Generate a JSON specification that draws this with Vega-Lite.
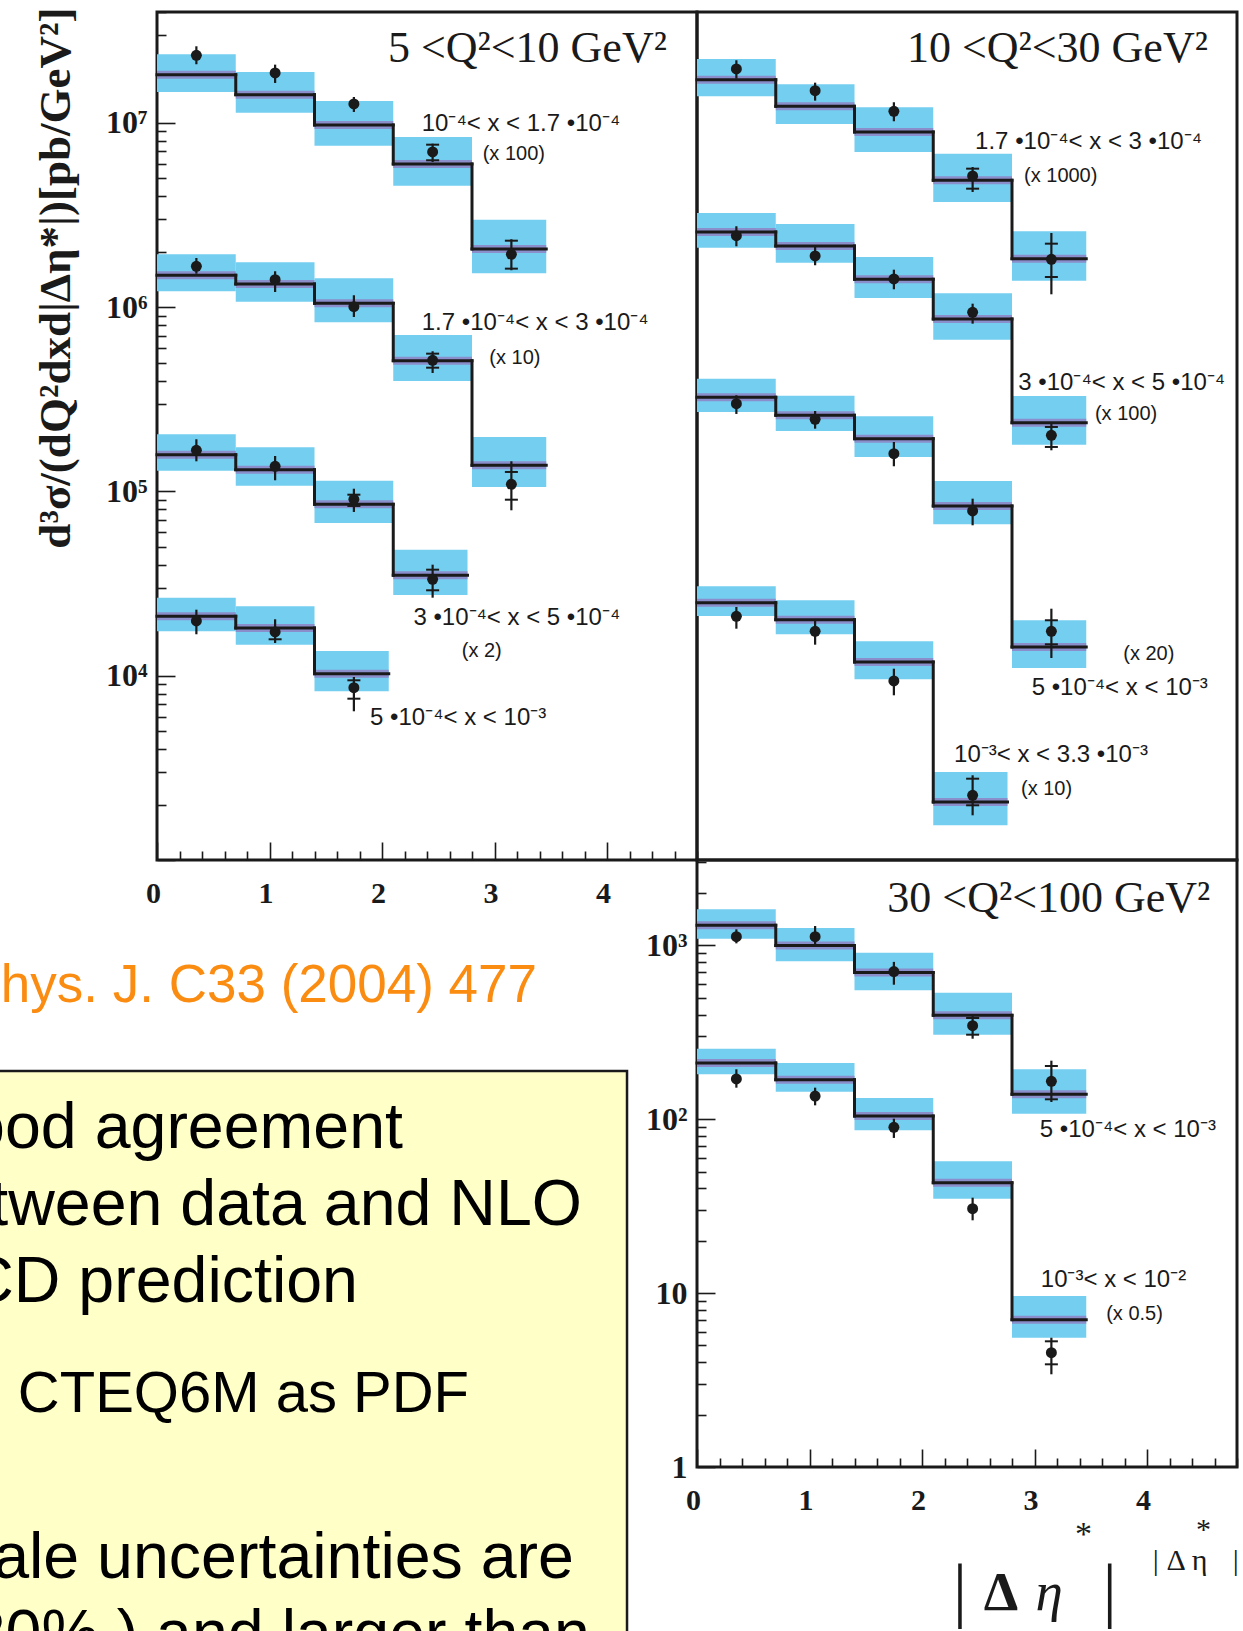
{
  "$schema": "https://vega.github.io/schema/vega-lite/v6.json",
  "background": "white",
  "padding": {"left": 0, "top": 5, "right": 0, "bottom": 0},
  "autosize": {"type": "pad"},
  "columns": 3,
  "spacing": 0,
  "bounds": "flush",
  "datasets": {
    "bins": [
      {"p":1,"s":"a","lo":0,"hi":0.7,"pred":18280000,"blo":14720000,"bhi":23580000,"ctr":0.35,"val":23290000,"elo":20820000,"ehi":26060000},
      {"p":1,"s":"a","lo":0.7,"hi":1.4,"pred":14240000,"blo":11370000,"bhi":18900000,"ctr":1.05,"val":18670000,"elo":16480000,"ehi":20720000},
      {"p":1,"s":"a","lo":1.4,"hi":2.1,"pred":9747000,"blo":7525000,"bhi":13160000,"ctr":1.75,"val":12680000,"elo":11470000,"ehi":13830000},
      {"p":1,"s":"a","lo":2.1,"hi":2.8,"pred":5988000,"blo":4566000,"bhi":8391000,"ctr":2.45,"val":6958000,"elo":6139000,"ehi":7717000,"slo":6272000,"shi":7621000},
      {"p":1,"s":"a","lo":2.8,"hi":3.46,"pred":2070000,"blo":1528000,"bhi":2985000,"ctr":3.15,"val":1938000,"elo":1587000,"ehi":2337000,"slo":1619000,"shi":2296000},
      {"p":1,"s":"b","lo":0,"hi":0.7,"pred":1490000,"blo":1220000,"bhi":1938000,"ctr":0.35,"val":1668000,"elo":1520000,"ehi":1850000},
      {"p":1,"s":"b","lo":0.7,"hi":1.4,"pred":1337000,"blo":1072000,"bhi":1753000,"ctr":1.05,"val":1410000,"elo":1209000,"ehi":1567000},
      {"p":1,"s":"b","lo":1.4,"hi":2.1,"pred":1050000,"blo":828300,"bhi":1435000,"ctr":1.75,"val":1007000,"elo":885000,"ehi":1161000},
      {"p":1,"s":"b","lo":2.1,"hi":2.8,"pred":512800,"blo":397800,"bhi":706800,"ctr":2.45,"val":515300,"elo":439600,"ehi":576600,"slo":469700,"shi":559600},
      {"p":1,"s":"b","lo":2.8,"hi":3.46,"pred":138700,"blo":105800,"bhi":197600,"ctr":3.15,"val":109400,"elo":79040,"ehi":145800,"slo":90230,"shi":127600},
      {"p":1,"s":"c","lo":0,"hi":0.7,"pred":158300,"blo":129700,"bhi":204300,"ctr":0.35,"val":167300,"elo":145800,"ehi":192000},
      {"p":1,"s":"c","lo":0.7,"hi":1.4,"pred":131300,"blo":107500,"bhi":173700,"ctr":1.05,"val":137000,"elo":115000,"ehi":155800},
      {"p":1,"s":"c","lo":1.4,"hi":2.1,"pred":85200,"blo":67450,"bhi":114500,"ctr":1.75,"val":90700,"elo":77400,"ehi":103500,"slo":83430,"shi":96050},
      {"p":1,"s":"c","lo":2.1,"hi":2.76,"pred":35090,"blo":27430,"bhi":48310,"ctr":2.45,"val":33380,"elo":26520,"ehi":40060,"slo":29090,"shi":37630},
      {"p":1,"s":"d","lo":0,"hi":0.7,"pred":21020,"blo":17430,"bhi":26510,"ctr":0.35,"val":19820,"elo":16790,"ehi":22830},
      {"p":1,"s":"d","lo":0.7,"hi":1.4,"pred":18160,"blo":14740,"bhi":23810,"ctr":1.05,"val":17280,"elo":15050,"ehi":20250,"slo":15770},
      {"p":1,"s":"d","lo":1.4,"hi":2.06,"pred":10260,"blo":8232,"bhi":13620,"ctr":1.75,"val":8612,"elo":6413,"ehi":9845,"slo":7507,"shi":9447},
      {"p":2,"s":"a","lo":0,"hi":0.7,"pred":17170000,"blo":13950000,"bhi":22240000,"ctr":0.35,"val":19630000,"elo":17390000,"ehi":21880000},
      {"p":2,"s":"a","lo":0.7,"hi":1.4,"pred":12310000,"blo":9872000,"bhi":16210000,"ctr":1.05,"val":14970000,"elo":13210000,"ehi":16540000},
      {"p":2,"s":"a","lo":1.4,"hi":2.1,"pred":8931000,"blo":6958000,"bhi":12160000,"ctr":1.75,"val":11570000,"elo":10210000,"ehi":12950000},
      {"p":2,"s":"a","lo":2.1,"hi":2.8,"pred":4885000,"blo":3724000,"bhi":6812000,"ctr":2.45,"val":5155000,"elo":4220000,"ehi":5768000,"slo":4398000,"shi":5647000},
      {"p":2,"s":"a","lo":2.8,"hi":3.46,"pred":1834000,"blo":1393000,"bhi":2582000,"ctr":3.15,"val":1820000,"elo":1175000,"ehi":2528000,"slo":1459000,"shi":2212000},
      {"p":2,"s":"b","lo":0,"hi":0.7,"pred":2560000,"blo":2104000,"bhi":3246000,"ctr":0.35,"val":2444000,"elo":2141000,"ehi":2750000},
      {"p":2,"s":"b","lo":0.7,"hi":1.4,"pred":2149000,"blo":1744000,"bhi":2829000,"ctr":1.05,"val":1897000,"elo":1689000,"ehi":2122000},
      {"p":2,"s":"b","lo":1.4,"hi":2.1,"pred":1418000,"blo":1122000,"bhi":1874000,"ctr":1.75,"val":1423000,"elo":1251000,"ehi":1598000},
      {"p":2,"s":"b","lo":2.1,"hi":2.8,"pred":863200,"blo":666400,"bhi":1190000,"ctr":2.45,"val":938500,"elo":814000,"ehi":1045000},
      {"p":2,"s":"b","lo":2.8,"hi":3.46,"pred":236200,"blo":179500,"bhi":329800,"ctr":3.15,"val":201800,"elo":167300,"ehi":233300,"slo":174400,"shi":223900},
      {"p":2,"s":"c","lo":0,"hi":0.7,"pred":324400,"blo":270100,"bhi":409300,"ctr":0.35,"val":299500,"elo":263400,"ehi":332700},
      {"p":2,"s":"c","lo":0.7,"hi":1.4,"pred":259100,"blo":212900,"bhi":331000,"ctr":1.05,"val":246500,"elo":219100,"ehi":273400},
      {"p":2,"s":"c","lo":1.4,"hi":2.1,"pred":193400,"blo":153900,"bhi":255900,"ctr":1.75,"val":160400,"elo":137000,"ehi":185600},
      {"p":2,"s":"c","lo":2.1,"hi":2.8,"pred":83410,"blo":66360,"bhi":114000,"ctr":2.45,"val":78380,"elo":65530,"ehi":91400},
      {"p":2,"s":"c","lo":2.8,"hi":3.46,"pred":14320,"blo":11020,"bhi":20000,"ctr":3.15,"val":17430,"elo":12480,"ehi":23110,"slo":14810,"shi":20000},
      {"p":2,"s":"d","lo":0,"hi":0.7,"pred":24910,"blo":21100,"bhi":30580,"ctr":0.35,"val":21020,"elo":18000,"ehi":23610},
      {"p":2,"s":"d","lo":0.7,"hi":1.4,"pred":20150,"blo":16790,"bhi":25670,"ctr":1.05,"val":17430,"elo":14740,"ehi":19820},
      {"p":2,"s":"d","lo":1.4,"hi":2.1,"pred":11870,"blo":9566,"bhi":15380,"ctr":1.75,"val":9366,"elo":7832,"ehi":10920},
      {"p":2,"s":"d","lo":2.1,"hi":2.76,"pred":2064,"blo":1543,"bhi":3003,"ctr":2.45,"val":2245,"elo":1748,"ehi":2882,"slo":1981,"shi":2762},
      {"p":3,"s":"a","lo":0,"hi":0.7,"pred":1306,"blo":1094,"bhi":1614,"ctr":0.35,"val":1122,"elo":1028,"ehi":1238},
      {"p":3,"s":"a","lo":0.7,"hi":1.4,"pred":997.9,"blo":810.4,"bhi":1260,"ctr":1.05,"val":1122,"elo":994,"ehi":1293},
      {"p":3,"s":"a","lo":1.4,"hi":2.1,"pred":698.2,"blo":551.8,"bhi":908,"ctr":1.75,"val":707.5,"elo":594.4,"ehi":804.2},
      {"p":3,"s":"a","lo":2.1,"hi":2.8,"pred":396.3,"blo":306.6,"bhi":534.6,"ctr":2.45,"val":345.3,"elo":290.7,"ehi":392.7,"slo":306.6,"shi":382.4},
      {"p":3,"s":"a","lo":2.8,"hi":3.46,"pred":139.2,"blo":107.7,"bhi":193.9,"ctr":3.15,"val":165.4,"elo":125.7,"ehi":217.3,"slo":130.3,"shi":202.5},
      {"p":3,"s":"b","lo":0,"hi":0.7,"pred":210.7,"blo":181.4,"bhi":254.7,"ctr":0.35,"val":170.5,"elo":152,"ehi":193.9},
      {"p":3,"s":"b","lo":0.7,"hi":1.4,"pred":168.9,"blo":144.1,"bhi":210.7,"ctr":1.05,"val":136.1,"elo":120.3,"ehi":152},
      {"p":3,"s":"b","lo":1.4,"hi":2.1,"pred":104.4,"blo":86.4,"bhi":132.6,"ctr":1.75,"val":89.9,"elo":78.1,"ehi":100.8},
      {"p":3,"s":"b","lo":2.1,"hi":2.8,"pred":43.17,"blo":34.93,"bhi":57.33,"ctr":2.45,"val":30.6,"elo":26.24,"ehi":35.4},
      {"p":3,"s":"b","lo":2.8,"hi":3.46,"pred":7.036,"blo":5.543,"bhi":9.627,"ctr":3.15,"val":4.544,"elo":3.414,"ehi":5.543,"slo":3.896,"shi":5.284}
    ],
    "labels": [
      {"p":1,"kind":"title","tx":4.532,"ty":21400000,"txt":"5 <Q²<10 GeV²"},
      {"p":1,"kind":"range","tx":2.353,"ty":9010000,"txt":"10⁻⁴< x < 1.7 •10⁻⁴"},
      {"p":1,"kind":"mult","tx":2.895,"ty":6300000,"txt":"(x 100)"},
      {"p":1,"kind":"range","tx":2.353,"ty":749000,"txt":"1.7 •10⁻⁴< x < 3 •10⁻⁴"},
      {"p":1,"kind":"mult","tx":2.954,"ty":494000,"txt":"(x 10)"},
      {"p":1,"kind":"range","tx":2.279,"ty":18900,"txt":"3 •10⁻⁴< x < 5 •10⁻⁴"},
      {"p":1,"kind":"mult","tx":2.709,"ty":12640,"txt":"(x 2)"},
      {"p":1,"kind":"range","tx":1.894,"ty":5420,"txt":"5 •10⁻⁴< x < 10⁻³"},
      {"p":2,"kind":"title","tx":4.541,"ty":21400000,"txt":"10 <Q²<30 GeV²"},
      {"p":2,"kind":"range","tx":2.472,"ty":7250000,"txt":"1.7 •10⁻⁴< x < 3 •10⁻⁴"},
      {"p":2,"kind":"mult","tx":2.907,"ty":4780000,"txt":"(x 1000)"},
      {"p":2,"kind":"range","tx":2.856,"ty":354000,"txt":"3 •10⁻⁴< x < 5 •10⁻⁴"},
      {"p":2,"kind":"mult","tx":3.537,"ty":243400,"txt":"(x 100)"},
      {"p":2,"kind":"mult","tx":3.789,"ty":12130,"txt":"(x 20)"},
      {"p":2,"kind":"range","tx":2.975,"ty":7830,"txt":"5 •10⁻⁴< x < 10⁻³"},
      {"p":2,"kind":"range","tx":2.285,"ty":3400,"txt":"10⁻³< x < 3.3 •10⁻³"},
      {"p":2,"kind":"mult","tx":2.88,"ty":2244,"txt":"(x 10)"},
      {"p":3,"kind":"title","tx":4.562,"ty":1557,"txt":"30 <Q²<100 GeV²"},
      {"p":3,"kind":"range","tx":3.047,"ty":79.1,"txt":"5 •10⁻⁴< x < 10⁻³"},
      {"p":3,"kind":"range","tx":3.056,"ty":10.85,"txt":"10⁻³< x < 10⁻²"},
      {"p":3,"kind":"mult","tx":3.637,"ty":6.98,"txt":"(x 0.5)"},
      {"p":3,"kind":"bigbar","tx":2.337,"ty":0.142,"txt":"|"},
      {"p":3,"kind":"bigbar","tx":3.669,"ty":0.142,"txt":"|"},
      {"p":3,"kind":"bigdelta","tx":2.703,"ty":0.1499,"txt":"Δ"},
      {"p":3,"kind":"bigeta","tx":3.131,"ty":0.1499,"txt":"η"},
      {"p":3,"kind":"bigstar","tx":3.436,"ty":0.358,"txt":"*"},
      {"p":3,"kind":"small","tx":4.077,"ty":0.2547,"txt":"|"},
      {"p":3,"kind":"small","tx":4.259,"ty":0.2547,"txt":"Δ"},
      {"p":3,"kind":"small","tx":4.468,"ty":0.2547,"txt":"η"},
      {"p":3,"kind":"small","tx":4.503,"ty":0.387,"txt":"*"},
      {"p":3,"kind":"small","tx":4.788,"ty":0.2547,"txt":"|"}
    ],
    "notes": [
      {"kind":"ref","u":0.7705,"v":0.8163,"txt":"Eur. Phys. J. C33 (2004) 477"},
      {"kind":"main","u":0.5782,"v":0.6274,"txt":"Good agreement"},
      {"kind":"main","u":0.835,"v":0.5278,"txt":"between data and NLO"},
      {"kind":"main","u":0.5136,"v":0.4282,"txt":"QCD prediction"},
      {"kind":"sub","u":0.6729,"v":0.2859,"txt":"CTEQ6M as PDF"},
      {"kind":"main","u":0.8235,"v":0.0712,"txt":"Scale uncertainties are"},
      {"kind":"main","u":0.8465,"v":-0.0285,"txt":"(~20% ) and larger than"}
    ]
  },
  "concat": [
    {
      "width": 157, "height": 848,
      "view": {"stroke": null},
      "data": {"values": [{}]},
      "mark": {"type": "text", "text": ""}
    },
    {
      "width": 540, "height": 848,
      "resolve": {"axis": {"x": "independent", "y": "independent"}},
      "layer": [
        {
          "data": {"name": "bins"}, "transform": [{"filter": "datum.p == 1"}],
          "mark": {"type": "rect", "color": "#73cef0"},
          "encoding": {
            "x": {"field": "lo", "type": "quantitative", "scale": {"domain": [0, 4.8], "nice": false, "zero": false},
              "axis": {"orient": "bottom", "title": null, "labels": false, "tickCount": 24, "tickSize": {"condition": {"test": "abs(datum.value - round(datum.value)) < 0.001", "value": -18}, "value": -9}}},
            "x2": {"field": "hi"},
            "y": {"field": "blo", "type": "quantitative", "scale": {"type": "log", "domain": [1000, 40000000], "nice": false},
              "axis": {"orient": "left", "title": null, "labels": false, "tickCount": 20, "tickSize": {"condition": {"test": "abs(log(datum.value)/LN10 - round(log(datum.value)/LN10)) < 0.001", "value": -18}, "value": -9}}},
            "y2": {"field": "bhi"}
          }
        },
        {
          "data": {"name": "bins"}, "transform": [{"filter": "datum.p == 1"}],
          "mark": {"type": "rule", "color": "#8a8ecb", "strokeWidth": 8},
          "encoding": {
            "x": {"field": "lo", "type": "quantitative", "scale": {"domain": [0, 4.8], "nice": false, "zero": false},
              "axis": {"orient": "bottom", "title": null, "ticks": false, "tickSize": 0, "values": [0, 1, 2, 3, 4], "format": "d", "labelPadding": 18, "labelOffset": -4}},
            "x2": {"field": "hi"},
            "y": {"field": "pred", "type": "quantitative", "scale": {"type": "log", "domain": [1000, 40000000], "nice": false},
              "axis": {"orient": "left", "ticks": false, "tickSize": 0, "values": [10000, 100000, 1000000, 10000000], "labelPadding": 10, "labelFontSize": 32,
                "labelExpr": "datum.value > 5e6 ? '10⁷' : datum.value > 5e5 ? '10⁶' : datum.value > 5e4 ? '10⁵' : '10⁴'",
                "title": "d³σ/(dQ²dxd|Δη*|)[pb/GeV²]", "titleFont": "Liberation Serif", "titleFontWeight": "bold", "titleFontSize": 45, "titleColor": "#1a1a1a", "titleAngle": -90, "titleAlign": "right", "titleBaseline": "alphabetic", "titleX": -88, "titleY": -5}}
          }
        },
        {
          "data": {"name": "bins"}, "transform": [{"filter": "datum.p == 1"}],
          "mark": {"type": "rule", "color": "#1a1a1a", "strokeWidth": 3, "strokeCap": "square"},
          "encoding": {
            "x": {"field": "lo", "type": "quantitative", "scale": {"domain": [0, 4.8], "nice": false, "zero": false}, "axis": null},
            "x2": {"field": "hi"},
            "y": {"field": "pred", "type": "quantitative", "scale": {"type": "log", "domain": [1000, 40000000], "nice": false}, "axis": null}
          }
        },
        {
          "data": {"name": "bins"},
          "transform": [
            {"filter": "datum.p == 1"},
            {"window": [{"op": "lead", "field": "pred", "as": "nxt"}], "groupby": ["p", "s"], "sort": [{"field": "lo", "order": "ascending"}]},
            {"filter": "isValid(datum.nxt)"}
          ],
          "mark": {"type": "rule", "color": "#1a1a1a", "strokeWidth": 3, "strokeCap": "square"},
          "encoding": {
            "x": {"field": "hi", "type": "quantitative", "scale": {"domain": [0, 4.8], "nice": false, "zero": false}, "axis": null},
            "y": {"field": "pred", "type": "quantitative", "scale": {"type": "log", "domain": [1000, 40000000], "nice": false}, "axis": null},
            "y2": {"field": "nxt"}
          }
        },
        {
          "data": {"name": "bins"}, "transform": [{"filter": "datum.p == 1"}],
          "mark": {"type": "rule", "color": "#1a1a1a", "strokeWidth": 2.2},
          "encoding": {
            "x": {"field": "ctr", "type": "quantitative", "scale": {"domain": [0, 4.8], "nice": false, "zero": false}, "axis": null},
            "y": {"field": "elo", "type": "quantitative", "scale": {"type": "log", "domain": [1000, 40000000], "nice": false}, "axis": null},
            "y2": {"field": "ehi"}
          }
        },
        {
          "data": {"name": "bins"}, "transform": [{"filter": "datum.p == 1 && isValid(datum.slo)"}],
          "mark": {"type": "tick", "orient": "horizontal", "size": 13, "thickness": 2, "color": "#1a1a1a", "opacity": 1},
          "encoding": {
            "x": {"field": "ctr", "type": "quantitative", "scale": {"domain": [0, 4.8], "nice": false, "zero": false}, "axis": null},
            "y": {"field": "slo", "type": "quantitative", "scale": {"type": "log", "domain": [1000, 40000000], "nice": false}, "axis": null}
          }
        },
        {
          "data": {"name": "bins"}, "transform": [{"filter": "datum.p == 1 && isValid(datum.shi)"}],
          "mark": {"type": "tick", "orient": "horizontal", "size": 13, "thickness": 2, "color": "#1a1a1a", "opacity": 1},
          "encoding": {
            "x": {"field": "ctr", "type": "quantitative", "scale": {"domain": [0, 4.8], "nice": false, "zero": false}, "axis": null},
            "y": {"field": "shi", "type": "quantitative", "scale": {"type": "log", "domain": [1000, 40000000], "nice": false}, "axis": null}
          }
        },
        {
          "data": {"name": "bins"}, "transform": [{"filter": "datum.p == 1"}],
          "mark": {"type": "point", "shape": "circle", "filled": true, "size": 120, "color": "#1a1a1a", "opacity": 1},
          "encoding": {
            "x": {"field": "ctr", "type": "quantitative", "scale": {"domain": [0, 4.8], "nice": false, "zero": false}, "axis": null},
            "y": {"field": "val", "type": "quantitative", "scale": {"type": "log", "domain": [1000, 40000000], "nice": false}, "axis": null}
          }
        },
        {
          "data": {"name": "labels"}, "transform": [{"filter": "datum.p == 1 && datum.kind == 'range'"}],
          "mark": {"type": "text", "font": "Liberation Sans", "fontSize": 24, "align": "left", "baseline": "alphabetic", "color": "#1a1a1a"},
          "encoding": {
            "x": {"field": "tx", "type": "quantitative", "scale": {"domain": [0, 4.8], "nice": false, "zero": false}, "axis": null},
            "y": {"field": "ty", "type": "quantitative", "scale": {"type": "log", "domain": [1000, 40000000], "nice": false}, "axis": null},
            "text": {"field": "txt"}
          }
        },
        {
          "data": {"name": "labels"}, "transform": [{"filter": "datum.p == 1 && datum.kind == 'mult'"}],
          "mark": {"type": "text", "font": "Liberation Sans", "fontSize": 20, "align": "left", "baseline": "alphabetic", "color": "#1a1a1a"},
          "encoding": {
            "x": {"field": "tx", "type": "quantitative", "scale": {"domain": [0, 4.8], "nice": false, "zero": false}, "axis": null},
            "y": {"field": "ty", "type": "quantitative", "scale": {"type": "log", "domain": [1000, 40000000], "nice": false}, "axis": null},
            "text": {"field": "txt"}
          }
        },
        {
          "data": {"name": "labels"}, "transform": [{"filter": "datum.p == 1 && datum.kind == 'title'"}],
          "mark": {"type": "text", "font": "Liberation Serif", "fontSize": 44, "align": "right", "baseline": "alphabetic", "color": "#1a1a1a"},
          "encoding": {
            "x": {"field": "tx", "type": "quantitative", "scale": {"domain": [0, 4.8], "nice": false, "zero": false}, "axis": null},
            "y": {"field": "ty", "type": "quantitative", "scale": {"type": "log", "domain": [1000, 40000000], "nice": false}, "axis": null},
            "text": {"field": "txt"}
          }
        }
      ]
    },
    {
      "width": 540, "height": 848,
      "layer": [
        {
          "data": {"name": "bins"}, "transform": [{"filter": "datum.p == 2"}],
          "mark": {"type": "rect", "color": "#73cef0"},
          "encoding": {
            "x": {"field": "lo", "type": "quantitative", "scale": {"domain": [0, 4.8], "nice": false, "zero": false},
              "axis": {"title": null, "labels": false, "tickCount": 24, "tickSize": {"condition": {"test": "abs(datum.value - round(datum.value)) < 0.001", "value": -18}, "value": -9}}},
            "x2": {"field": "hi"},
            "y": {"field": "blo", "type": "quantitative", "scale": {"type": "log", "domain": [1000, 40000000], "nice": false},
              "axis": {"title": null, "labels": false, "tickCount": 20, "tickSize": {"condition": {"test": "abs(log(datum.value)/LN10 - round(log(datum.value)/LN10)) < 0.001", "value": -18}, "value": -9}}},
            "y2": {"field": "bhi"}
          }
        },
        {
          "data": {"name": "bins"}, "transform": [{"filter": "datum.p == 2"}],
          "mark": {"type": "rule", "color": "#8a8ecb", "strokeWidth": 8},
          "encoding": {
            "x": {"field": "lo", "type": "quantitative", "scale": {"domain": [0, 4.8], "nice": false, "zero": false}, "axis": null},
            "x2": {"field": "hi"},
            "y": {"field": "pred", "type": "quantitative", "scale": {"type": "log", "domain": [1000, 40000000], "nice": false}, "axis": null}
          }
        },
        {
          "data": {"name": "bins"}, "transform": [{"filter": "datum.p == 2"}],
          "mark": {"type": "rule", "color": "#1a1a1a", "strokeWidth": 3, "strokeCap": "square"},
          "encoding": {
            "x": {"field": "lo", "type": "quantitative", "scale": {"domain": [0, 4.8], "nice": false, "zero": false}, "axis": null},
            "x2": {"field": "hi"},
            "y": {"field": "pred", "type": "quantitative", "scale": {"type": "log", "domain": [1000, 40000000], "nice": false}, "axis": null}
          }
        },
        {
          "data": {"name": "bins"},
          "transform": [
            {"filter": "datum.p == 2"},
            {"window": [{"op": "lead", "field": "pred", "as": "nxt"}], "groupby": ["p", "s"], "sort": [{"field": "lo", "order": "ascending"}]},
            {"filter": "isValid(datum.nxt)"}
          ],
          "mark": {"type": "rule", "color": "#1a1a1a", "strokeWidth": 3, "strokeCap": "square"},
          "encoding": {
            "x": {"field": "hi", "type": "quantitative", "scale": {"domain": [0, 4.8], "nice": false, "zero": false}, "axis": null},
            "y": {"field": "pred", "type": "quantitative", "scale": {"type": "log", "domain": [1000, 40000000], "nice": false}, "axis": null},
            "y2": {"field": "nxt"}
          }
        },
        {
          "data": {"name": "bins"}, "transform": [{"filter": "datum.p == 2"}],
          "mark": {"type": "rule", "color": "#1a1a1a", "strokeWidth": 2.2},
          "encoding": {
            "x": {"field": "ctr", "type": "quantitative", "scale": {"domain": [0, 4.8], "nice": false, "zero": false}, "axis": null},
            "y": {"field": "elo", "type": "quantitative", "scale": {"type": "log", "domain": [1000, 40000000], "nice": false}, "axis": null},
            "y2": {"field": "ehi"}
          }
        },
        {
          "data": {"name": "bins"}, "transform": [{"filter": "datum.p == 2 && isValid(datum.slo)"}],
          "mark": {"type": "tick", "orient": "horizontal", "size": 13, "thickness": 2, "color": "#1a1a1a", "opacity": 1},
          "encoding": {
            "x": {"field": "ctr", "type": "quantitative", "scale": {"domain": [0, 4.8], "nice": false, "zero": false}, "axis": null},
            "y": {"field": "slo", "type": "quantitative", "scale": {"type": "log", "domain": [1000, 40000000], "nice": false}, "axis": null}
          }
        },
        {
          "data": {"name": "bins"}, "transform": [{"filter": "datum.p == 2 && isValid(datum.shi)"}],
          "mark": {"type": "tick", "orient": "horizontal", "size": 13, "thickness": 2, "color": "#1a1a1a", "opacity": 1},
          "encoding": {
            "x": {"field": "ctr", "type": "quantitative", "scale": {"domain": [0, 4.8], "nice": false, "zero": false}, "axis": null},
            "y": {"field": "shi", "type": "quantitative", "scale": {"type": "log", "domain": [1000, 40000000], "nice": false}, "axis": null}
          }
        },
        {
          "data": {"name": "bins"}, "transform": [{"filter": "datum.p == 2"}],
          "mark": {"type": "point", "shape": "circle", "filled": true, "size": 120, "color": "#1a1a1a", "opacity": 1},
          "encoding": {
            "x": {"field": "ctr", "type": "quantitative", "scale": {"domain": [0, 4.8], "nice": false, "zero": false}, "axis": null},
            "y": {"field": "val", "type": "quantitative", "scale": {"type": "log", "domain": [1000, 40000000], "nice": false}, "axis": null}
          }
        },
        {
          "data": {"name": "labels"}, "transform": [{"filter": "datum.p == 2 && datum.kind == 'range'"}],
          "mark": {"type": "text", "font": "Liberation Sans", "fontSize": 24, "align": "left", "baseline": "alphabetic", "color": "#1a1a1a"},
          "encoding": {
            "x": {"field": "tx", "type": "quantitative", "scale": {"domain": [0, 4.8], "nice": false, "zero": false}, "axis": null},
            "y": {"field": "ty", "type": "quantitative", "scale": {"type": "log", "domain": [1000, 40000000], "nice": false}, "axis": null},
            "text": {"field": "txt"}
          }
        },
        {
          "data": {"name": "labels"}, "transform": [{"filter": "datum.p == 2 && datum.kind == 'mult'"}],
          "mark": {"type": "text", "font": "Liberation Sans", "fontSize": 20, "align": "left", "baseline": "alphabetic", "color": "#1a1a1a"},
          "encoding": {
            "x": {"field": "tx", "type": "quantitative", "scale": {"domain": [0, 4.8], "nice": false, "zero": false}, "axis": null},
            "y": {"field": "ty", "type": "quantitative", "scale": {"type": "log", "domain": [1000, 40000000], "nice": false}, "axis": null},
            "text": {"field": "txt"}
          }
        },
        {
          "data": {"name": "labels"}, "transform": [{"filter": "datum.p == 2 && datum.kind == 'title'"}],
          "mark": {"type": "text", "font": "Liberation Serif", "fontSize": 44, "align": "right", "baseline": "alphabetic", "color": "#1a1a1a"},
          "encoding": {
            "x": {"field": "tx", "type": "quantitative", "scale": {"domain": [0, 4.8], "nice": false, "zero": false}, "axis": null},
            "y": {"field": "ty", "type": "quantitative", "scale": {"type": "log", "domain": [1000, 40000000], "nice": false}, "axis": null},
            "text": {"field": "txt"}
          }
        }
      ]
    },
    {
      "width": 157, "height": 773,
      "view": {"stroke": null},
      "layer": [
        {
          "data": {"values": [{}]},
          "mark": {"type": "rect", "fill": "#ffffc8", "stroke": "#1a1a1a", "strokeWidth": 2.5, "clip": true},
          "encoding": {
            "x": {"datum": -0.02, "type": "quantitative", "scale": {"domain": [0, 0.22525], "nice": false, "zero": false}, "axis": null},
            "x2": {"datum": 0.8996},
            "y": {"datum": -0.05, "type": "quantitative", "scale": {"domain": [0, 1], "nice": false, "zero": false}, "axis": null},
            "y2": {"datum": 0.727}
          }
        },
        {
          "data": {"name": "notes"}, "transform": [{"filter": "datum.kind == 'ref'"}],
          "mark": {"type": "text", "font": "Liberation Sans", "fontSize": 53, "align": "right", "baseline": "alphabetic", "color": "#fb8c12", "clip": true},
          "encoding": {
            "x": {"field": "u", "type": "quantitative", "scale": {"domain": [0, 0.22525], "nice": false, "zero": false}, "axis": null},
            "y": {"field": "v", "type": "quantitative", "scale": {"domain": [0, 1], "nice": false, "zero": false}, "axis": null},
            "text": {"field": "txt"}
          }
        },
        {
          "data": {"name": "notes"}, "transform": [{"filter": "datum.kind == 'main'"}],
          "mark": {"type": "text", "font": "Liberation Sans", "fontSize": 64.5, "align": "right", "baseline": "alphabetic", "color": "#000000", "clip": true},
          "encoding": {
            "x": {"field": "u", "type": "quantitative", "scale": {"domain": [0, 0.22525], "nice": false, "zero": false}, "axis": null},
            "y": {"field": "v", "type": "quantitative", "scale": {"domain": [0, 1], "nice": false, "zero": false}, "axis": null},
            "text": {"field": "txt"}
          }
        },
        {
          "data": {"name": "notes"}, "transform": [{"filter": "datum.kind == 'sub'"}],
          "mark": {"type": "text", "font": "Liberation Sans", "fontSize": 58, "align": "right", "baseline": "alphabetic", "color": "#000000", "clip": true},
          "encoding": {
            "x": {"field": "u", "type": "quantitative", "scale": {"domain": [0, 0.22525], "nice": false, "zero": false}, "axis": null},
            "y": {"field": "v", "type": "quantitative", "scale": {"domain": [0, 1], "nice": false, "zero": false}, "axis": null},
            "text": {"field": "txt"}
          }
        }
      ]
    },
    {
      "width": 540, "height": 773,
      "view": {"stroke": null},
      "layer": [
        {
          "data": {"values": [{}]},
          "mark": {"type": "rect", "fill": "#ffffc8", "stroke": "#1a1a1a", "strokeWidth": 2.5, "clip": true},
          "encoding": {
            "x": {"datum": -0.02, "type": "quantitative", "scale": {"domain": [0.22525, 1], "nice": false, "zero": false}, "axis": null},
            "x2": {"datum": 0.8996},
            "y": {"datum": -0.05, "type": "quantitative", "scale": {"domain": [0, 1], "nice": false, "zero": false}, "axis": null},
            "y2": {"datum": 0.727}
          }
        },
        {
          "data": {"name": "notes"}, "transform": [{"filter": "datum.kind == 'ref'"}],
          "mark": {"type": "text", "font": "Liberation Sans", "fontSize": 53, "align": "right", "baseline": "alphabetic", "color": "#fb8c12", "clip": true},
          "encoding": {
            "x": {"field": "u", "type": "quantitative", "scale": {"domain": [0.22525, 1], "nice": false, "zero": false}, "axis": null},
            "y": {"field": "v", "type": "quantitative", "scale": {"domain": [0, 1], "nice": false, "zero": false}, "axis": null},
            "text": {"field": "txt"}
          }
        },
        {
          "data": {"name": "notes"}, "transform": [{"filter": "datum.kind == 'main'"}],
          "mark": {"type": "text", "font": "Liberation Sans", "fontSize": 64.5, "align": "right", "baseline": "alphabetic", "color": "#000000", "clip": true},
          "encoding": {
            "x": {"field": "u", "type": "quantitative", "scale": {"domain": [0.22525, 1], "nice": false, "zero": false}, "axis": null},
            "y": {"field": "v", "type": "quantitative", "scale": {"domain": [0, 1], "nice": false, "zero": false}, "axis": null},
            "text": {"field": "txt"}
          }
        },
        {
          "data": {"name": "notes"}, "transform": [{"filter": "datum.kind == 'sub'"}],
          "mark": {"type": "text", "font": "Liberation Sans", "fontSize": 58, "align": "right", "baseline": "alphabetic", "color": "#000000", "clip": true},
          "encoding": {
            "x": {"field": "u", "type": "quantitative", "scale": {"domain": [0.22525, 1], "nice": false, "zero": false}, "axis": null},
            "y": {"field": "v", "type": "quantitative", "scale": {"domain": [0, 1], "nice": false, "zero": false}, "axis": null},
            "text": {"field": "txt"}
          }
        }
      ]
    },
    {
      "width": 540, "height": 607,
      "resolve": {"axis": {"x": "independent", "y": "independent"}},
      "layer": [
        {
          "data": {"name": "bins"}, "transform": [{"filter": "datum.p == 3"}],
          "mark": {"type": "rect", "color": "#73cef0"},
          "encoding": {
            "x": {"field": "lo", "type": "quantitative", "scale": {"domain": [0, 4.8], "nice": false, "zero": false},
              "axis": {"orient": "bottom", "title": null, "labels": false, "tickCount": 24, "tickSize": {"condition": {"test": "abs(datum.value - round(datum.value)) < 0.001", "value": -18}, "value": -9}}},
            "x2": {"field": "hi"},
            "y": {"field": "blo", "type": "quantitative", "scale": {"type": "log", "domain": [1, 3100], "nice": false},
              "axis": {"orient": "left", "title": null, "labels": false, "tickCount": 20, "tickSize": {"condition": {"test": "abs(log(datum.value)/LN10 - round(log(datum.value)/LN10)) < 0.001", "value": -18}, "value": -9}}},
            "y2": {"field": "bhi"}
          }
        },
        {
          "data": {"name": "bins"}, "transform": [{"filter": "datum.p == 3"}],
          "mark": {"type": "rule", "color": "#8a8ecb", "strokeWidth": 8},
          "encoding": {
            "x": {"field": "lo", "type": "quantitative", "scale": {"domain": [0, 4.8], "nice": false, "zero": false},
              "axis": {"orient": "bottom", "title": null, "ticks": false, "tickSize": 0, "values": [0, 1, 2, 3, 4], "format": "d", "labelPadding": 18, "labelOffset": -4}},
            "x2": {"field": "hi"},
            "y": {"field": "pred", "type": "quantitative", "scale": {"type": "log", "domain": [1, 3100], "nice": false},
              "axis": {"orient": "left", "title": null, "ticks": false, "tickSize": 0, "values": [1, 10, 100, 1000], "labelPadding": 10, "labelFontSize": 32,
                "labelExpr": "datum.value > 500 ? '10³' : datum.value > 50 ? '10²' : datum.value > 5 ? '10' : '1'"}}
          }
        },
        {
          "data": {"name": "bins"}, "transform": [{"filter": "datum.p == 3"}],
          "mark": {"type": "rule", "color": "#1a1a1a", "strokeWidth": 3, "strokeCap": "square"},
          "encoding": {
            "x": {"field": "lo", "type": "quantitative", "scale": {"domain": [0, 4.8], "nice": false, "zero": false}, "axis": null},
            "x2": {"field": "hi"},
            "y": {"field": "pred", "type": "quantitative", "scale": {"type": "log", "domain": [1, 3100], "nice": false}, "axis": null}
          }
        },
        {
          "data": {"name": "bins"},
          "transform": [
            {"filter": "datum.p == 3"},
            {"window": [{"op": "lead", "field": "pred", "as": "nxt"}], "groupby": ["p", "s"], "sort": [{"field": "lo", "order": "ascending"}]},
            {"filter": "isValid(datum.nxt)"}
          ],
          "mark": {"type": "rule", "color": "#1a1a1a", "strokeWidth": 3, "strokeCap": "square"},
          "encoding": {
            "x": {"field": "hi", "type": "quantitative", "scale": {"domain": [0, 4.8], "nice": false, "zero": false}, "axis": null},
            "y": {"field": "pred", "type": "quantitative", "scale": {"type": "log", "domain": [1, 3100], "nice": false}, "axis": null},
            "y2": {"field": "nxt"}
          }
        },
        {
          "data": {"name": "bins"}, "transform": [{"filter": "datum.p == 3"}],
          "mark": {"type": "rule", "color": "#1a1a1a", "strokeWidth": 2.2},
          "encoding": {
            "x": {"field": "ctr", "type": "quantitative", "scale": {"domain": [0, 4.8], "nice": false, "zero": false}, "axis": null},
            "y": {"field": "elo", "type": "quantitative", "scale": {"type": "log", "domain": [1, 3100], "nice": false}, "axis": null},
            "y2": {"field": "ehi"}
          }
        },
        {
          "data": {"name": "bins"}, "transform": [{"filter": "datum.p == 3 && isValid(datum.slo)"}],
          "mark": {"type": "tick", "orient": "horizontal", "size": 13, "thickness": 2, "color": "#1a1a1a", "opacity": 1},
          "encoding": {
            "x": {"field": "ctr", "type": "quantitative", "scale": {"domain": [0, 4.8], "nice": false, "zero": false}, "axis": null},
            "y": {"field": "slo", "type": "quantitative", "scale": {"type": "log", "domain": [1, 3100], "nice": false}, "axis": null}
          }
        },
        {
          "data": {"name": "bins"}, "transform": [{"filter": "datum.p == 3 && isValid(datum.shi)"}],
          "mark": {"type": "tick", "orient": "horizontal", "size": 13, "thickness": 2, "color": "#1a1a1a", "opacity": 1},
          "encoding": {
            "x": {"field": "ctr", "type": "quantitative", "scale": {"domain": [0, 4.8], "nice": false, "zero": false}, "axis": null},
            "y": {"field": "shi", "type": "quantitative", "scale": {"type": "log", "domain": [1, 3100], "nice": false}, "axis": null}
          }
        },
        {
          "data": {"name": "bins"}, "transform": [{"filter": "datum.p == 3"}],
          "mark": {"type": "point", "shape": "circle", "filled": true, "size": 120, "color": "#1a1a1a", "opacity": 1},
          "encoding": {
            "x": {"field": "ctr", "type": "quantitative", "scale": {"domain": [0, 4.8], "nice": false, "zero": false}, "axis": null},
            "y": {"field": "val", "type": "quantitative", "scale": {"type": "log", "domain": [1, 3100], "nice": false}, "axis": null}
          }
        },
        {
          "data": {"name": "labels"}, "transform": [{"filter": "datum.p == 3 && datum.kind == 'range'"}],
          "mark": {"type": "text", "font": "Liberation Sans", "fontSize": 24, "align": "left", "baseline": "alphabetic", "color": "#1a1a1a"},
          "encoding": {
            "x": {"field": "tx", "type": "quantitative", "scale": {"domain": [0, 4.8], "nice": false, "zero": false}, "axis": null},
            "y": {"field": "ty", "type": "quantitative", "scale": {"type": "log", "domain": [1, 3100], "nice": false}, "axis": null},
            "text": {"field": "txt"}
          }
        },
        {
          "data": {"name": "labels"}, "transform": [{"filter": "datum.p == 3 && datum.kind == 'mult'"}],
          "mark": {"type": "text", "font": "Liberation Sans", "fontSize": 20, "align": "left", "baseline": "alphabetic", "color": "#1a1a1a"},
          "encoding": {
            "x": {"field": "tx", "type": "quantitative", "scale": {"domain": [0, 4.8], "nice": false, "zero": false}, "axis": null},
            "y": {"field": "ty", "type": "quantitative", "scale": {"type": "log", "domain": [1, 3100], "nice": false}, "axis": null},
            "text": {"field": "txt"}
          }
        },
        {
          "data": {"name": "labels"}, "transform": [{"filter": "datum.p == 3 && datum.kind == 'title'"}],
          "mark": {"type": "text", "font": "Liberation Serif", "fontSize": 44, "align": "right", "baseline": "alphabetic", "color": "#1a1a1a"},
          "encoding": {
            "x": {"field": "tx", "type": "quantitative", "scale": {"domain": [0, 4.8], "nice": false, "zero": false}, "axis": null},
            "y": {"field": "ty", "type": "quantitative", "scale": {"type": "log", "domain": [1, 3100], "nice": false}, "axis": null},
            "text": {"field": "txt"}
          }
        },
        {
          "data": {"name": "labels"}, "transform": [{"filter": "datum.p == 3 && datum.kind == 'bigbar'"}],
          "mark": {"type": "text", "font": "Liberation Serif", "fontSize": 72, "align": "center", "baseline": "alphabetic", "color": "#1a1a1a"},
          "encoding": {
            "x": {"field": "tx", "type": "quantitative", "scale": {"domain": [0, 4.8], "nice": false, "zero": false}, "axis": null},
            "y": {"field": "ty", "type": "quantitative", "scale": {"type": "log", "domain": [1, 3100], "nice": false}, "axis": null},
            "text": {"field": "txt"}
          }
        },
        {
          "data": {"name": "labels"}, "transform": [{"filter": "datum.p == 3 && datum.kind == 'bigdelta'"}],
          "mark": {"type": "text", "font": "Liberation Serif", "fontSize": 55, "fontWeight": "bold", "align": "center", "baseline": "alphabetic", "color": "#1a1a1a"},
          "encoding": {
            "x": {"field": "tx", "type": "quantitative", "scale": {"domain": [0, 4.8], "nice": false, "zero": false}, "axis": null},
            "y": {"field": "ty", "type": "quantitative", "scale": {"type": "log", "domain": [1, 3100], "nice": false}, "axis": null},
            "text": {"field": "txt"}
          }
        },
        {
          "data": {"name": "labels"}, "transform": [{"filter": "datum.p == 3 && datum.kind == 'bigeta'"}],
          "mark": {"type": "text", "font": "Liberation Serif", "fontSize": 55, "fontStyle": "italic", "align": "center", "baseline": "alphabetic", "color": "#1a1a1a"},
          "encoding": {
            "x": {"field": "tx", "type": "quantitative", "scale": {"domain": [0, 4.8], "nice": false, "zero": false}, "axis": null},
            "y": {"field": "ty", "type": "quantitative", "scale": {"type": "log", "domain": [1, 3100], "nice": false}, "axis": null},
            "text": {"field": "txt"}
          }
        },
        {
          "data": {"name": "labels"}, "transform": [{"filter": "datum.p == 3 && datum.kind == 'bigstar'"}],
          "mark": {"type": "text", "font": "Liberation Serif", "fontSize": 34, "align": "center", "baseline": "alphabetic", "color": "#1a1a1a"},
          "encoding": {
            "x": {"field": "tx", "type": "quantitative", "scale": {"domain": [0, 4.8], "nice": false, "zero": false}, "axis": null},
            "y": {"field": "ty", "type": "quantitative", "scale": {"type": "log", "domain": [1, 3100], "nice": false}, "axis": null},
            "text": {"field": "txt"}
          }
        },
        {
          "data": {"name": "labels"}, "transform": [{"filter": "datum.p == 3 && datum.kind == 'small'"}],
          "mark": {"type": "text", "font": "Liberation Serif", "fontSize": 30, "align": "center", "baseline": "alphabetic", "color": "#1a1a1a"},
          "encoding": {
            "x": {"field": "tx", "type": "quantitative", "scale": {"domain": [0, 4.8], "nice": false, "zero": false}, "axis": null},
            "y": {"field": "ty", "type": "quantitative", "scale": {"type": "log", "domain": [1, 3100], "nice": false}, "axis": null},
            "text": {"field": "txt"}
          }
        }
      ]
    }
  ],
  "config": {
    "view": {"stroke": "#1a1a1a", "strokeWidth": 3},
    "axis": {
      "domain": false, "grid": false, "zindex": 1,
      "tickColor": "#1a1a1a", "tickWidth": 1.6,
      "labelFont": "Liberation Serif", "labelFontWeight": "bold", "labelFontSize": 30, "labelColor": "#1a1a1a",
      "labelOverlap": false, "labelFlush": false, "labelBound": false
    }
  }
}
